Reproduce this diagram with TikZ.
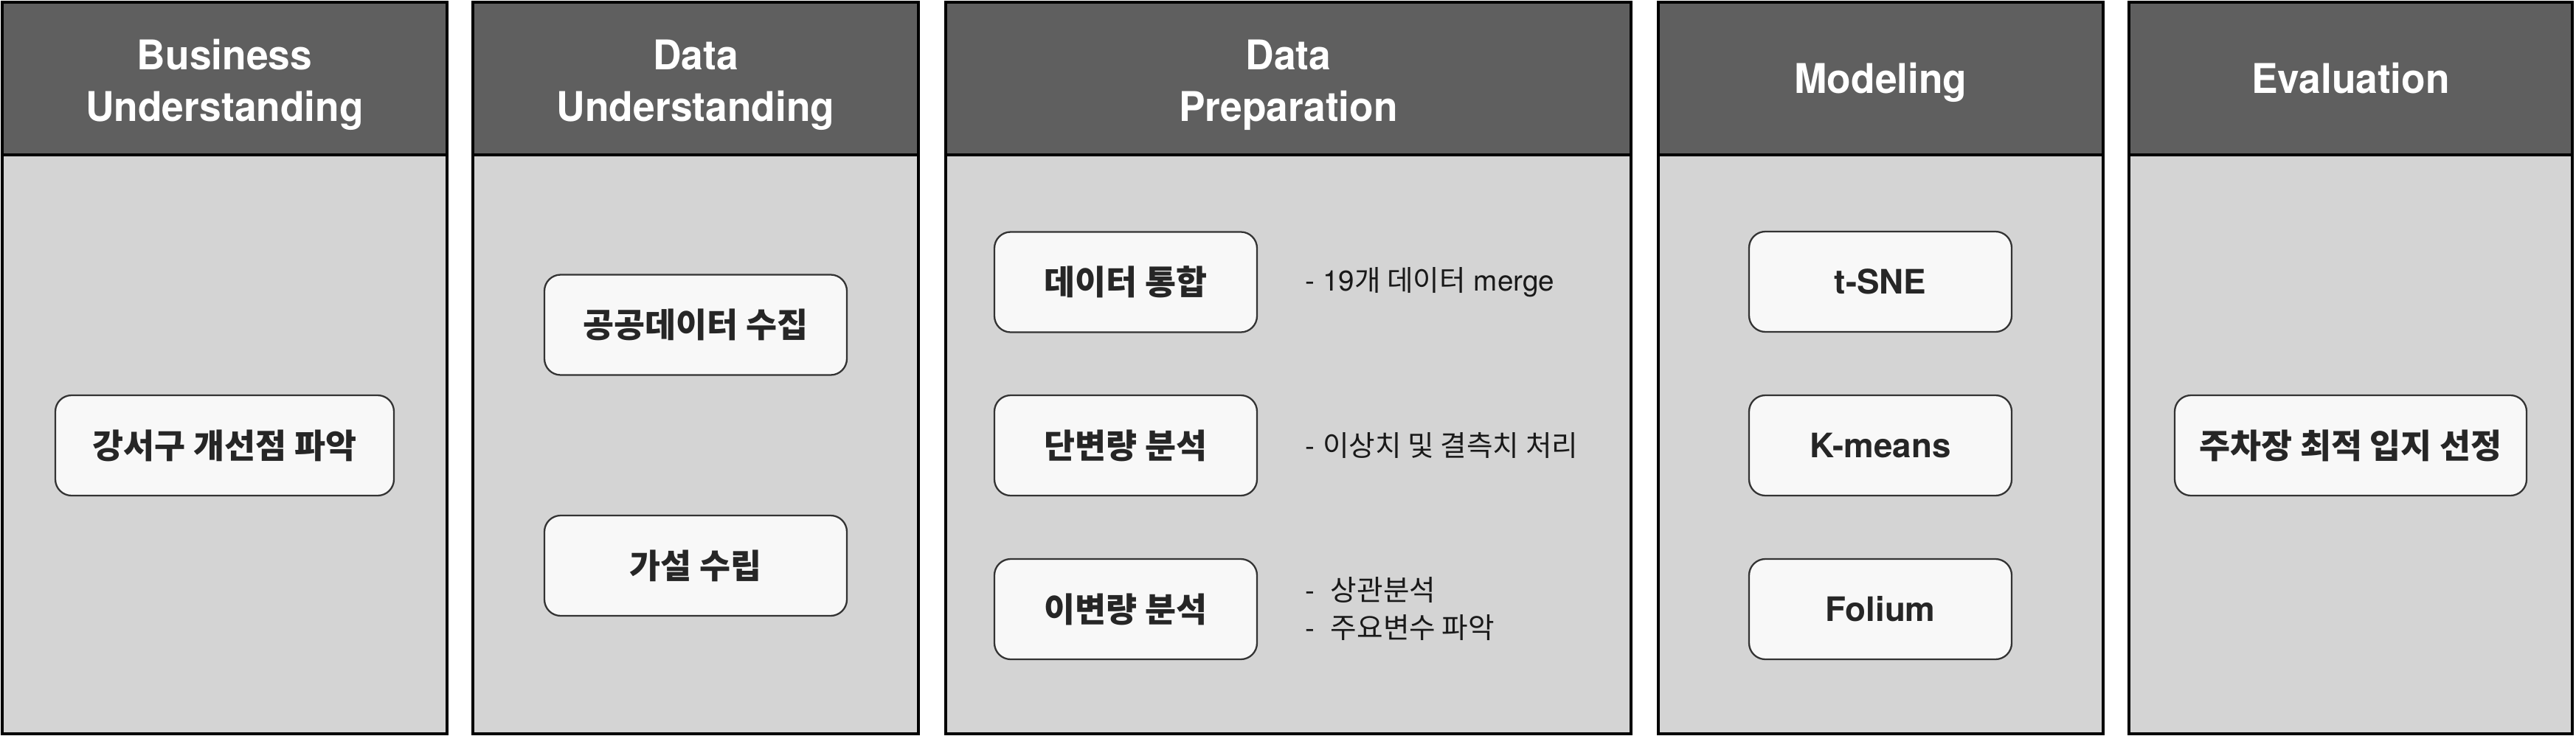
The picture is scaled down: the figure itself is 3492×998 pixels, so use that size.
\documentclass[tikz,border=0pt]{standalone}
\usepackage{fontspec}
\setmainfont{TeX Gyre Heros}
\newfontfamily\headfont{TeX Gyre Heros}[FakeStretch=0.96]
\newfontfamily\kor{Noto Sans CJK KR}
\usepackage{tikz}
\usetikzlibrary{positioning}

\definecolor{headgray}{HTML}{5F5F5F}
\definecolor{bodygray}{HTML}{D4D4D4}
\definecolor{boxwhite}{HTML}{F8F8F8}

\begin{document}
\begin{tikzpicture}[x=0.1mm, y=-0.1mm]
    % --- Canvas ---
    \useasboundingbox (0,0) rectangle (3492,998);

    % --- Styles ---
    \tikzstyle{panel_body}=[draw=black, line width=1pt, fill=bodygray]
    \tikzstyle{panel_head}=[draw=black, line width=1pt, fill=headgray]
    \tikzstyle{head_text}=[
        text=white,
        align=center,
        font=\fontsize{15.8}{19.9}\selectfont\headfont\bfseries
    ]
    \tikzstyle{task_box}=[
        draw=black!80,
        line width=0.65pt,
        fill=boxwhite,
        rounded corners=2.2mm,
        minimum height=13.6mm,
        text=black!85,
        font=\fontsize{13}{15}\selectfont\bfseries
    ]
    \tikzstyle{note_text}=[
        align=left,
        text=black!90,
        font=\fontsize{11}{14.5}\selectfont
    ]

    % --- 1. Panels (body, then header band) ---
    \draw[panel_body] (3,3) rectangle (606,995);
    \draw[panel_head] (3,3) rectangle (606,210);
    \draw[panel_body] (641,3) rectangle (1245,995);
    \draw[panel_head] (641,3) rectangle (1245,210);
    \draw[panel_body] (1282,3) rectangle (2211,995);
    \draw[panel_head] (1282,3) rectangle (2211,210);
    \draw[panel_body] (2248,3) rectangle (2851,995);
    \draw[panel_head] (2248,3) rectangle (2851,210);
    \draw[panel_body] (2886,3) rectangle (3487,995);
    \draw[panel_head] (2886,3) rectangle (3487,210);

    % --- 2. Header titles ---
    \node[head_text] (h_business) at (304.5,115) {Business\\Understanding};
    \node[head_text] (h_data) at (943,115) {Data\\Understanding};
    \node[head_text] (h_prep) at (1746.5,115) {Data\\Preparation};
    \node[head_text, anchor=base] (h_model) at (2549.5,127) {Modeling};
    \node[head_text, anchor=base] (h_eval) at (3186.5,127) {Evaluation};

    % --- 3. Business Understanding ---
    \node[task_box, minimum width=45.9mm] (gangseo) at (304.5,604) {\kor 강서구 개선점 파악};

    % --- 4. Data Understanding ---
    \node[task_box, minimum width=41mm] (collect) at (943,440.5) {\kor 공공데이터 수집};
    \node[task_box, minimum width=41mm] (hypo) at (943,767) {\kor 가설 수립};

    % --- 5. Data Preparation (box + remark on its right) ---
    \node[task_box, minimum width=35.6mm] (merge) at (1526,382.5) {\kor 데이터 통합};
    \node[task_box, minimum width=35.6mm] (univar) at (1526,604) {\kor 단변량 분석};
    \node[task_box, minimum width=35.6mm] (bivar) at (1526,826) {\kor 이변량 분석};

    \node[note_text, right=5.2mm of merge] (merge_note) {- 19{\kor 개 데이터} merge};
    \node[note_text, right=5.2mm of univar] (univar_note) {- {\kor 이상치 및 결측치 처리}};
    \node[note_text, right=5.2mm of bivar] (bivar_note) {
        -\ \ {\kor 상관분석} \\
        -\ \ {\kor 주요변수 파악}
    };

    % --- 6. Modeling ---
    \node[task_box, minimum width=35.6mm] (tsne) at (2549,382) {t-SNE};
    \node[task_box, minimum width=35.6mm] (kmeans) at (2549,604) {K-means};
    \node[task_box, minimum width=35.6mm] (folium) at (2549,826) {Folium};

    % --- 7. Evaluation ---
    \node[task_box, minimum width=47.7mm] (site) at (3186.5,604) {\kor 주차장 최적 입지 선정};

\end{tikzpicture}
\end{document}
